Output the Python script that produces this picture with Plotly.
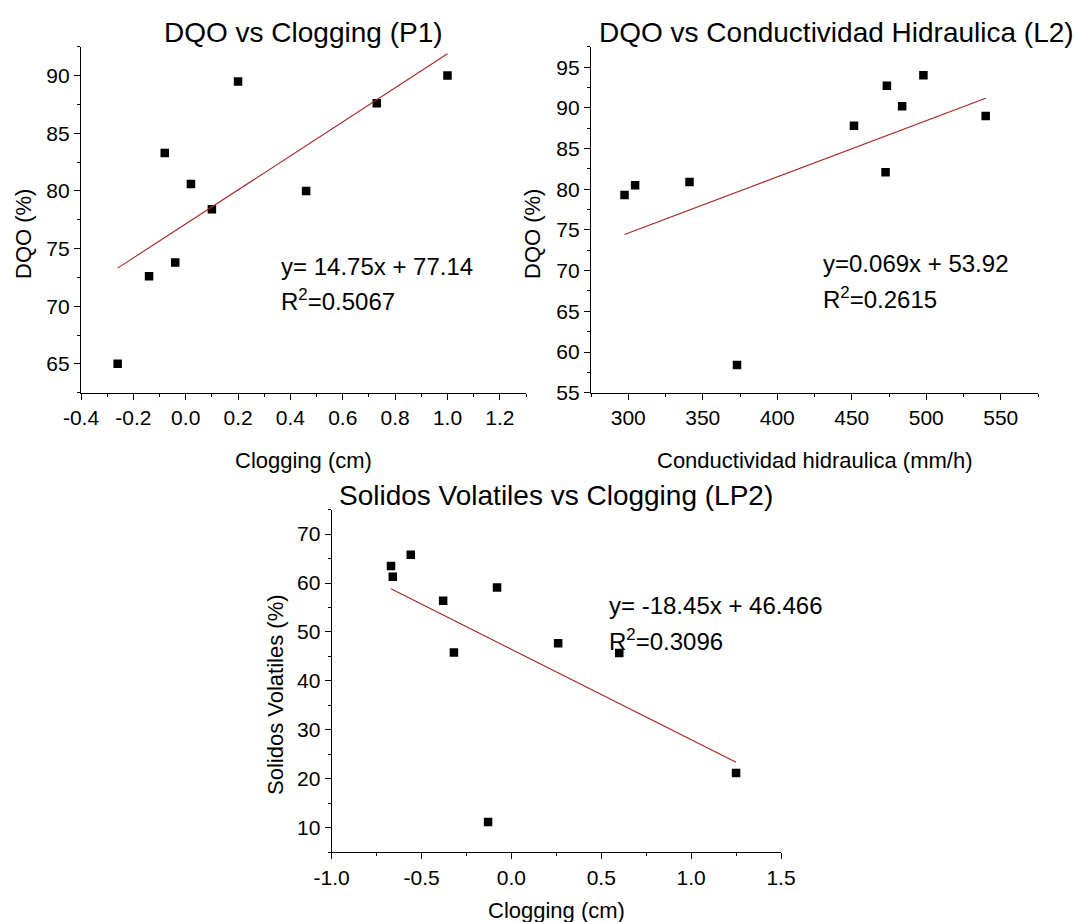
import plotly.graph_objects as go

W, H = 1078, 922
FONT = "Liberation Sans, Arial, Helvetica, sans-serif"
LINE_RED = "#A82424"

# Panel 1: DQO vs Clogging (P1)
p1_clogging = [-0.26, -0.14, -0.08, -0.04, 0.02, 0.10, 0.20, 0.46, 0.73, 1.00]
p1_dqo = [65.0, 72.6, 83.3, 73.8, 80.6, 78.4, 89.5, 80.0, 87.6, 90.0]
p1_slope, p1_intercept, p1_r2 = 14.75, 77.14, "0.5067"
p1_xticks = [-0.4, -0.2, 0.0, 0.2, 0.4, 0.6, 0.8, 1.0, 1.2]
p1_xticktext = ["-0.4", "-0.2", "0.0", "0.2", "0.4", "0.6", "0.8", "1.0", "1.2"]
p1_yticks = [65, 70, 75, 80, 85, 90]

# Panel 2: DQO vs Conductividad Hidraulica (L2)
p2_conductividad = [297.5, 304.6, 341.1, 373.0, 451.5, 472.7, 473.6, 483.8, 498.1, 539.9]
p2_dqo = [79.3, 80.5, 80.9, 58.4, 87.8, 82.1, 92.7, 90.2, 94.0, 89.0]
p2_slope, p2_intercept, p2_r2 = 0.069, 53.92, "0.2615"
p2_xticks = [300, 350, 400, 450, 500, 550]
p2_yticks = [55, 60, 65, 70, 75, 80, 85, 90, 95]

# Panel 3: Solidos Volatiles vs Clogging (LP2)
p3_clogging = [-0.67, -0.66, -0.56, -0.38, -0.32, -0.13, -0.08, 0.26, 0.60, 1.25]
p3_solidos = [63.5, 61.3, 65.8, 56.4, 45.8, 11.2, 59.1, 47.7, 45.7, 21.2]
p3_slope, p3_intercept, p3_r2 = -18.45, 46.466, "0.3096"
p3_xticks = [-1.0, -0.5, 0.0, 0.5, 1.0, 1.5]
p3_xticktext = ["-1.0", "-0.5", "0.0", "0.5", "1.0", "1.5"]
p3_yticks = [10, 20, 30, 40, 50, 60, 70]


def px(x):
    return x / W


def py(y):
    return 1 - y / H


def axis(domain, rng, tickvals, ticktext, minor_tick0, minor_dtick, anchor):
    return dict(
        domain=domain, range=rng, anchor=anchor,
        tickmode="array", tickvals=tickvals, ticktext=ticktext,
        ticks="outside", ticklen=6, tickwidth=1.3, tickcolor="black",
        showline=True, linecolor="black", linewidth=1.3,
        showgrid=False, zeroline=False, mirror=False, automargin=False,
        tickfont=dict(size=21, color="black", family=FONT),
        minor=dict(ticks="outside", ticklen=3, tickwidth=1.3, tickcolor="black",
                   tickmode="linear", tick0=minor_tick0, dtick=minor_dtick,
                   showgrid=False),
        fixedrange=True,
    )


def trend(xs, slope, intercept):
    x0, x1 = min(xs), max(xs)
    return [x0, x1], [slope * x0 + intercept, slope * x1 + intercept]


fig = go.Figure()

panels = [
    (p1_clogging, p1_dqo, p1_slope, p1_intercept, "x", "y"),
    (p2_conductividad, p2_dqo, p2_slope, p2_intercept, "x2", "y2"),
    (p3_clogging, p3_solidos, p3_slope, p3_intercept, "x3", "y3"),
]
for xs, ys, m, b, xa, ya in panels:
    fig.add_trace(go.Scatter(
        x=xs, y=ys, mode="markers", xaxis=xa, yaxis=ya,
        marker=dict(symbol="square", size=8.5, color="black"),
        showlegend=False, hoverinfo="x+y",
    ))
    lx, ly = trend(xs, m, b)
    fig.add_trace(go.Scatter(
        x=lx, y=ly, mode="lines", xaxis=xa, yaxis=ya,
        line=dict(color=LINE_RED, width=1.1),
        showlegend=False, hoverinfo="skip",
    ))

ydom_top = [py(392.7), py(46.8)]
fig.update_layout(
    width=W, height=H, autosize=False,
    margin=dict(l=0, r=0, t=0, b=0, pad=0, autoexpand=False),
    paper_bgcolor="white", plot_bgcolor="white",
    font=dict(family=FONT, color="black"),
    xaxis=axis([px(81), px(526)], [-0.4, 1.3], p1_xticks, p1_xticktext, -0.4, 0.1, "y"),
    yaxis=axis(ydom_top, [62.5, 92.5], p1_yticks, [str(v) for v in p1_yticks], 62.5, 2.5, "x"),
    xaxis2=axis([px(591), px(1038)], [275, 575], p2_xticks, [str(v) for v in p2_xticks], 275, 25, "y2"),
    yaxis2=axis(ydom_top, [55, 97.5], p2_yticks, [str(v) for v in p2_yticks], 55, 2.5, "x2"),
    xaxis3=axis([px(331.7), px(781)], [-1.0, 1.5], p3_xticks, p3_xticktext, -1.0, 0.25, "y3"),
    yaxis3=axis([py(852.3), py(509.6)], [5, 75], p3_yticks, [str(v) for v in p3_yticks], 5, 5, "x3"),
)


def note(x, y, text, size, xanchor="center", angle=0):
    fig.add_annotation(
        x=px(x), y=py(y), xref="paper", yref="paper", text=text,
        showarrow=False, xanchor=xanchor, yanchor="middle", textangle=angle,
        font=dict(family=FONT, size=size, color="black"),
    )


# panel titles
note(303.5, 32, "DQO vs Clogging (P1)", 28)
note(1076, 32, "DQO vs Conductividad Hidraulica (L2)", 28, xanchor="right")
note(556, 495, "Solidos Volatiles vs Clogging (LP2)", 28)

# axis titles
note(303.5, 460, "Clogging (cm)", 22)
note(814.5, 460, "Conductividad hidraulica (mm/h)", 22)
note(556, 910, "Clogging (cm)", 22)
note(24, 234, "DQO (%)", 22, angle=-90)
note(533, 234, "DQO (%)", 22, angle=-90)
note(275, 695, "Solidos Volatiles (%)", 22, angle=-90)

# regression equations
note(279, 266, f"y= {p1_slope}x + {p1_intercept}", 24, xanchor="left")
note(279, 300, f"R<sup>2</sup>={p1_r2}", 24, xanchor="left")
note(821, 263, f"y={p2_slope}x + {p2_intercept}", 24, xanchor="left")
note(821, 298, f"R<sup>2</sup>={p2_r2}", 24, xanchor="left")
note(607, 605, f"y= {p3_slope}x + {p3_intercept}", 24, xanchor="left")
note(607, 640, f"R<sup>2</sup>={p3_r2}", 24, xanchor="left")

fig.write_html("out.html")
